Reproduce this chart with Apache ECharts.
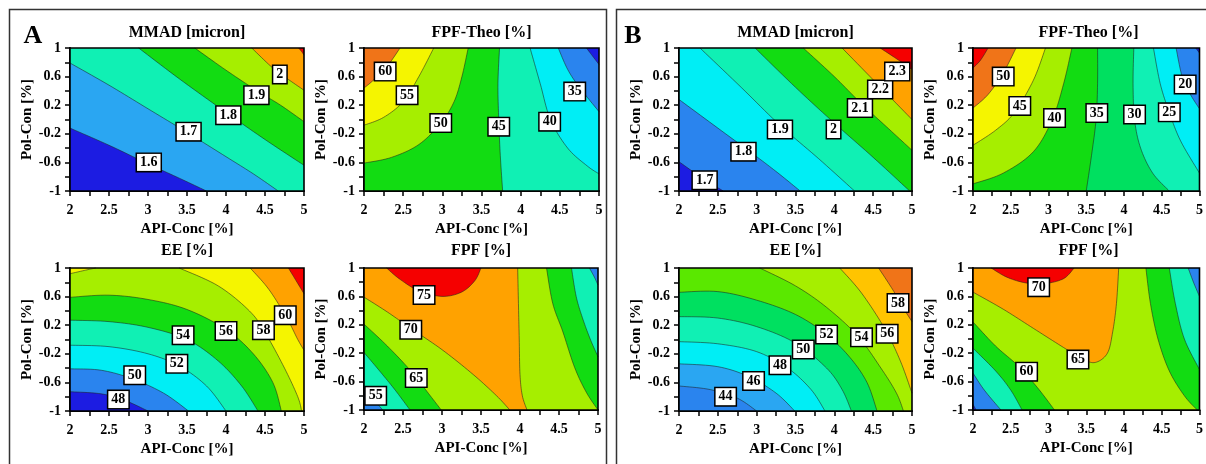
<!DOCTYPE html>
<html><head><meta charset="utf-8">
<script src="https://cdn.jsdelivr.net/npm/echarts@6/dist/echarts.min.js"></script>
<style>html,body{margin:0;padding:0;background:#fff}#c{width:1206px;height:464px}</style>
</head><body><div id="c"></div>
<script>
// ================= DATA =================
const xTicks = [2, 2.5, 3, 3.5, 4, 4.5, 5];
const xTickMarks = [2, 2.25, 2.5, 2.75, 3, 3.25, 3.5, 3.75, 4, 4.25, 4.5, 4.75, 5];
const yTicks = [-1, -0.6, -0.2, 0.2, 0.6, 1];
const yTickMarks = [-1, -0.8, -0.6, -0.4, -0.2, 0, 0.2, 0.4, 0.6, 0.8, 1];
const xName = 'API-Conc [%]';
const yName = 'Pol-Con [%]';
const panelLetters = ['A', 'B'];
const plotTitles = ['MMAD [micron]', 'FPF-Theo [%]', 'EE [%]', 'FPF [%]',
                    'MMAD [micron]', 'FPF-Theo [%]', 'EE [%]', 'FPF [%]'];

// Contour lines: level, which side is filled (hi = values above level), points on the line
// [API-Conc, Pol-Con], and plot corners that close the region.
// ---- Panel A : MMAD ----
const aMmadLevels = [1.6, 1.7, 1.8, 1.9, 2.0, 2.1];
const aMmadBase = 1.55;
const aMmadLines = [
  {lv: 1.6, side: 'hi', pts: [[2,-0.12],[2.5,-0.36],[3.0,-0.62],[3.4,-0.82],[3.75,-1]], close: [[5,-1],[5,1],[2,1]]},
  {lv: 1.7, side: 'hi', pts: [[2,0.79],[2.5,0.48],[3.0,0.15],[3.5,-0.18],[4.0,-0.52],[4.35,-0.76],[4.67,-1]], close: [[5,-1],[5,1],[2,1]]},
  {lv: 1.8, side: 'hi', pts: [[2.88,1],[3.4,0.57],[4.0,0.1],[4.5,-0.28],[5,-0.64]], close: [[5,1]]},
  {lv: 1.9, side: 'hi', pts: [[3.6,1],[4.0,0.69],[4.4,0.4],[4.7,0.2],[5,-0.03]], close: [[5,1]]},
  {lv: 2.0, side: 'hi', pts: [[4.33,1],[4.6,0.72],[4.8,0.56],[5,0.41]], close: [[5,1]]},
  {lv: 2.1, side: 'hi', pts: [[4.93,1],[4.97,0.95],[5,0.9]], close: [[5,1]]}
];
const aMmadLabels = [[3.01,-0.6,'1.6'],[3.52,-0.17,'1.7'],[4.03,0.06,'1.8'],[4.39,0.34,'1.9'],[4.69,0.63,'2']];

// ---- Panel A : FPF-Theo ----
const aTheoLevels = [30, 35, 40, 45, 50, 55, 60];
const aTheoBase = 47;
const aTheoLines = [
  {lv: 50, side: 'hi', pts: [[3.33,1],[3.25,0.6],[3.15,0.25],[2.98,-0.05],[2.7,-0.35],[2.35,-0.53],[2,-0.61]], close: [[2,1]]},
  {lv: 55, side: 'hi', pts: [[2.89,1],[2.7,0.6],[2.5,0.25],[2.25,0.03],[2,-0.08]], close: [[2,1]]},
  {lv: 60, side: 'hi', pts: [[2.46,1],[2.3,0.75],[2.12,0.55],[2,0.44]], close: [[2,1]]},
  {lv: 45, side: 'lo', pts: [[3.73,1],[3.71,0.5],[3.72,0],[3.74,-0.5],[3.77,-1]], close: [[5,-1],[5,1]]},
  {lv: 40, side: 'lo', pts: [[4.12,1],[4.25,0.5],[4.38,0],[4.6,-0.4],[4.85,-0.65],[5,-0.76]], close: [[5,1]]},
  {lv: 35, side: 'lo', pts: [[4.48,1],[4.6,0.7],[4.75,0.45],[5,0.11]], close: [[5,1]]},
  {lv: 30, side: 'lo', pts: [[4.84,1],[4.93,0.87],[5,0.77]], close: [[5,1]]}
];
const aTheoLabels = [[2.27,0.67,'60'],[2.55,0.34,'55'],[2.98,-0.05,'50'],[3.72,-0.1,'45'],[4.37,-0.03,'40'],[4.69,0.39,'35']];

// ---- Panel A : EE ----
const aEeLevels = [48, 50, 52, 54, 56, 58, 60, 62];
const aEeBase = 47;
const aEeLines = [
  {lv: 48, side: 'hi', pts: [[2,-0.73],[2.4,-0.76],[2.7,-0.85],[3.0,-1]], close: [[5,-1],[5,1],[2,1]]},
  {lv: 50, side: 'hi', pts: [[2,-0.41],[2.4,-0.43],[2.8,-0.55],[3.2,-0.75],[3.52,-1]], close: [[5,-1],[5,1],[2,1]]},
  {lv: 52, side: 'hi', pts: [[2,-0.08],[2.5,-0.1],[3.0,-0.2],[3.4,-0.37],[3.75,-0.65],[4.0,-1]], close: [[5,-1],[5,1],[2,1]]},
  {lv: 54, side: 'hi', pts: [[2,0.27],[2.5,0.25],[3.0,0.17],[3.5,0.0],[3.9,-0.3],[4.2,-0.65],[4.41,-1]], close: [[5,-1],[5,1],[2,1]]},
  {lv: 56, side: 'hi', pts: [[2,0.59],[2.5,0.62],[3.0,0.56],[3.5,0.42],[4.0,0.14],[4.35,-0.2],[4.6,-0.6],[4.71,-1]], close: [[5,-1],[5,1],[2,1]]},
  {lv: 58, side: 'hi', pts: [[2,0.92],[2.2,0.97],[2.33,1]], close: [[2,1]]},
  {lv: 58, side: 'hi', pts: [[3.4,1],[3.9,0.75],[4.3,0.4],[4.5,0.1],[4.75,-0.4],[4.92,-0.8],[4.97,-1]], close: [[5,-1],[5,1]]},
  {lv: 60, side: 'hi', pts: [[4.31,1],[4.55,0.7],[4.78,0.3],[4.92,0.0],[5,-0.15]], close: [[5,1]]},
  {lv: 62, side: 'hi', pts: [[4.8,1],[4.9,0.82],[5,0.64]], close: [[5,1]]}
];
const aEeLabels = [[2.62,-0.84,'48'],[2.83,-0.5,'50'],[3.37,-0.34,'52'],[3.45,0.06,'54'],[4.0,0.12,'56'],[4.48,0.13,'58'],[4.76,0.34,'60']];

// ---- Panel A : FPF ----
const aFpfLevels = [55, 60, 65, 70, 75];
const aFpfBase = 72;
const aFpfLines = [
  {lv: 75, side: 'hi', pts: [[2.29,1],[2.45,0.85],[2.7,0.68],[3.0,0.6],[3.25,0.66],[3.42,0.82],[3.5,1]], close: []},
  {lv: 70, side: 'lo', pts: [[2,0.59],[2.3,0.38],[2.6,0.15],[3.0,-0.15],[3.4,-0.5],[3.7,-0.8],[3.87,-1]], close: [[2,-1]]},
  {lv: 65, side: 'lo', pts: [[2,0.21],[2.3,-0.1],[2.6,-0.45],[2.85,-0.8],[2.99,-1]], close: [[2,-1]]},
  {lv: 60, side: 'lo', pts: [[2,-0.19],[2.2,-0.45],[2.4,-0.72],[2.59,-1]], close: [[2,-1]]},
  {lv: 55, side: 'lo', pts: [[2,-0.71],[2.12,-0.85],[2.24,-1]], close: [[2,-1]]},
  {lv: 70, side: 'lo', pts: [[3.97,1],[3.98,0.5],[3.99,0],[4.0,-0.5],[4.03,-0.8],[4.09,-1]], close: [[5,-1],[5,1]]},
  {lv: 65, side: 'lo', pts: [[4.34,1],[4.42,0.5],[4.55,0.1],[4.7,-0.4],[4.85,-0.75],[5,-1]], close: [[5,1]]},
  {lv: 60, side: 'lo', pts: [[4.66,1],[4.72,0.6],[4.8,0.3],[4.9,0],[5,-0.25]], close: [[5,1]]},
  {lv: 55, side: 'lo', pts: [[4.89,1],[4.95,0.88],[5,0.76]], close: [[5,1]]}
];
const aFpfLabels = [[2.77,0.62,'75'],[2.6,0.13,'70'],[2.67,-0.55,'65'],[2.15,-0.8,'55']];

// ---- Panel B : MMAD ----
const bMmadLevels = [1.7, 1.8, 1.9, 2.0, 2.1, 2.2, 2.3];
const bMmadBase = 1.65;
const bMmadLines = [
  {lv: 1.7, side: 'hi', pts: [[2,-0.59],[2.3,-0.82],[2.57,-1]], close: [[5,-1],[5,1],[2,1]]},
  {lv: 1.8, side: 'hi', pts: [[2,0.28],[2.5,-0.12],[3.0,-0.52],[3.3,-0.77],[3.56,-1]], close: [[5,-1],[5,1],[2,1]]},
  {lv: 1.9, side: 'hi', pts: [[2.27,1],[2.8,0.45],[3.3,-0.08],[3.8,-0.55],[4.26,-1]], close: [[5,-1],[5,1]]},
  {lv: 2.0, side: 'hi', pts: [[2.98,1],[3.5,0.45],[4.0,-0.05],[4.5,-0.53],[4.97,-1]], close: [[5,-1],[5,1]]},
  {lv: 2.1, side: 'hi', pts: [[3.6,1],[4.0,0.6],[4.35,0.22],[4.7,-0.13],[5,-0.43]], close: [[5,1]]},
  {lv: 2.2, side: 'hi', pts: [[4.1,1],[4.55,0.5],[5,0.0]], close: [[5,1]]},
  {lv: 2.3, side: 'hi', pts: [[4.59,1],[4.8,0.85],[5,0.7]], close: [[5,1]]}
];
const bMmadLabels = [[2.33,-0.85,'1.7'],[2.83,-0.45,'1.8'],[3.3,-0.14,'1.9'],[3.99,-0.14,'2'],[4.33,0.16,'2.1'],[4.59,0.42,'2.2'],[4.81,0.67,'2.3']];

// ---- Panel B : FPF-Theo ----
const bTheoLevels = [15, 20, 25, 30, 35, 40, 45, 50, 55];
const bTheoBase = 37;
const bTheoLines = [
  {lv: 40, side: 'hi', pts: [[3.31,1],[3.2,0.5],[3.05,0.0],[2.8,-0.45],[2.4,-0.75],[2,-0.9]], close: [[2,1]]},
  {lv: 45, side: 'hi', pts: [[2.96,1],[2.8,0.55],[2.55,0.1],[2.3,-0.15],[2,-0.36]], close: [[2,1]]},
  {lv: 50, side: 'hi', pts: [[2.57,1],[2.4,0.65],[2.2,0.35],[2,0.16]], close: [[2,1]]},
  {lv: 55, side: 'hi', pts: [[2.2,1],[2.1,0.83],[2,0.72]], close: [[2,1]]},
  {lv: 35, side: 'lo', pts: [[3.65,1],[3.65,0.5],[3.63,0],[3.57,-0.5],[3.5,-1]], close: [[5,-1],[5,1]]},
  {lv: 30, side: 'lo', pts: [[4.13,1],[4.12,0.5],[4.14,0.0],[4.22,-0.4],[4.38,-0.75],[4.6,-1]], close: [[5,-1],[5,1]]},
  {lv: 25, side: 'lo', pts: [[4.39,1],[4.48,0.5],[4.6,0.1],[4.75,-0.3],[5,-0.75]], close: [[5,1]]},
  {lv: 20, side: 'lo', pts: [[4.69,1],[4.77,0.6],[4.88,0.35],[5,0.15]], close: [[5,1]]},
  {lv: 15, side: 'lo', pts: [[4.95,1],[5,0.93]], close: [[5,1]]}
];
const bTheoLabels = [[2.4,0.6,'50'],[2.62,0.19,'45'],[3.08,0.02,'40'],[3.64,0.09,'35'],[4.14,0.07,'30'],[4.6,0.1,'25'],[4.81,0.49,'20']];

// ---- Panel B : EE ----
const bEeLevels = [44, 46, 48, 50, 52, 54, 56, 58];
const bEeBase = 43;
const bEeLines = [
  {lv: 44, side: 'hi', pts: [[2,-0.65],[2.4,-0.7],[2.75,-0.82],[3.0,-1]], close: [[5,-1],[5,1],[2,1]]},
  {lv: 46, side: 'hi', pts: [[2,-0.34],[2.5,-0.38],[2.9,-0.52],[3.25,-0.75],[3.49,-1]], close: [[5,-1],[5,1],[2,1]]},
  {lv: 48, side: 'hi', pts: [[2,-0.03],[2.5,-0.06],[3.0,-0.17],[3.4,-0.4],[3.7,-0.7],[3.88,-1]], close: [[5,-1],[5,1],[2,1]]},
  {lv: 50, side: 'hi', pts: [[2,0.32],[2.5,0.3],[3.0,0.18],[3.5,-0.05],[3.9,-0.4],[4.1,-0.7],[4.22,-1]], close: [[5,-1],[5,1],[2,1]]},
  {lv: 52, side: 'hi', pts: [[2,0.66],[2.5,0.67],[3.0,0.55],[3.5,0.35],[3.9,0.07],[4.2,-0.25],[4.42,-0.6],[4.55,-1]], close: [[5,-1],[5,1],[2,1]]},
  {lv: 54, side: 'hi', pts: [[3.04,1],[3.5,0.75],[3.9,0.45],[4.3,0.05],[4.6,-0.4],[4.8,-0.75],[4.89,-1]], close: [[5,-1],[5,1]]},
  {lv: 56, side: 'hi', pts: [[4.07,1],[4.35,0.65],[4.65,0.15],[4.85,-0.3],[5,-0.75]], close: [[5,1]]},
  {lv: 58, side: 'hi', pts: [[4.57,1],[4.75,0.7],[4.9,0.42],[5,0.25]], close: [[5,1]]}
];
const bEeLabels = [[2.6,-0.8,'44'],[2.96,-0.58,'46'],[3.3,-0.36,'48'],[3.6,-0.14,'50'],[3.9,0.07,'52'],[4.35,0.03,'54'],[4.68,0.08,'56'],[4.82,0.51,'58']];

// ---- Panel B : FPF ----
const bFpfLevels = [45, 50, 55, 60, 65, 70];
const bFpfBase = 62;
const bFpfLines = [
  {lv: 65, side: 'hi', pts: [[2,0.66],[2.4,0.42],[2.8,0.15],[3.2,-0.12],[3.45,-0.28],[3.62,-0.33],[3.78,-0.2],[3.85,0.1],[3.9,0.5],[3.93,1]], close: [[2,1]]},
  {lv: 70, side: 'hi', pts: [[2.24,1],[2.45,0.87],[2.7,0.79],[2.95,0.78],[3.2,0.85],[3.34,1]], close: []},
  {lv: 60, side: 'lo', pts: [[2,0.24],[2.3,-0.1],[2.6,-0.38],[2.85,-0.68],[3.08,-1]], close: [[2,-1]]},
  {lv: 55, side: 'lo', pts: [[2,-0.13],[2.3,-0.45],[2.5,-0.72],[2.65,-1]], close: [[2,-1]]},
  {lv: 50, side: 'lo', pts: [[2,-0.48],[2.15,-0.72],[2.37,-1]], close: [[2,-1]]},
  {lv: 45, side: 'lo', pts: [[2,-0.92],[2.04,-1]], close: [[2,-1]]},
  {lv: 60, side: 'lo', pts: [[4.29,1],[4.35,0.5],[4.45,0],[4.6,-0.45],[4.8,-0.8],[4.97,-1]], close: [[5,-1],[5,1]]},
  {lv: 55, side: 'lo', pts: [[4.6,1],[4.68,0.5],[4.8,0],[5,-0.43]], close: [[5,1]]},
  {lv: 50, side: 'lo', pts: [[4.85,1],[4.92,0.8],[5,0.6]], close: [[5,1]]}
];
const bFpfLabels = [[2.87,0.73,'70'],[3.39,-0.29,'65'],[2.71,-0.46,'60']];

// ================= STYLE / LAYOUT =================
const FONT = '"Liberation Serif", "Times New Roman", serif';
const PAL = {
  darkblue: '#1c1ce2', blue: '#2a84ee', lightblue: '#2aa6f2', cyan: '#00eef5',
  aqua: '#10f0b4', green2: '#00e060', green: '#12dc12', lightgreen: '#5ae800',
  yellowgreen: '#a6ee00', yellow: '#f5f500', gold: '#ffc400', orange: '#ffa200',
  darkorange: '#f07418', red: '#f50000'
};
const plots = [
  {levels: aMmadLevels, base: aMmadBase, lines: aMmadLines, labels: aMmadLabels,
   bands: ['darkblue','lightblue','aqua','green','yellowgreen','orange','red'],
   grid: {left: 70, top: 48, width: 234, height: 143}},
  {levels: aTheoLevels, base: aTheoBase, lines: aTheoLines, labels: aTheoLabels,
   bands: ['darkblue','blue','cyan','aqua','green','yellowgreen','yellow','darkorange'],
   grid: {left: 364, top: 48, width: 235, height: 143}},
  {levels: aEeLevels, base: aEeBase, lines: aEeLines, labels: aEeLabels,
   bands: ['darkblue','blue','cyan','aqua','green','yellowgreen','yellow','orange','red'],
   grid: {left: 70, top: 268, width: 234, height: 143}},
  {levels: aFpfLevels, base: aFpfBase, lines: aFpfLines, labels: aFpfLabels,
   bands: ['blue','aqua','green','yellowgreen','orange','red'],
   grid: {left: 364, top: 268, width: 234, height: 142}},
  {levels: bMmadLevels, base: bMmadBase, lines: bMmadLines, labels: bMmadLabels,
   bands: ['darkblue','blue','cyan','aqua','green','yellowgreen','orange','red'],
   grid: {left: 679, top: 48, width: 233, height: 143}},
  {levels: bTheoLevels, base: bTheoBase, lines: bTheoLines, labels: bTheoLabels,
   bands: ['darkblue','blue','cyan','aqua','green2','green','yellowgreen','yellow','darkorange','red'],
   grid: {left: 973, top: 48, width: 231, height: 143}},
  {levels: bEeLevels, base: bEeBase, lines: bEeLines, labels: bEeLabels,
   bands: ['blue','lightblue','cyan','aqua','green2','lightgreen','yellowgreen','gold','darkorange'],
   grid: {left: 679, top: 268, width: 233, height: 143}},
  {levels: bFpfLevels, base: bFpfBase, lines: bFpfLines, labels: bFpfLabels,
   bands: ['darkblue','blue','aqua','green','yellowgreen','orange','red'],
   grid: {left: 973, top: 268, width: 231, height: 142}}
];

function bandIndexOf(levels, v) { let k = 0; while (k < levels.length && levels[k] < v) k++; return k; }
function smoothPts(P, seg) {
  if (P.length < 3) return P.slice();
  const out = [];
  for (let i = 0; i < P.length - 1; i++) {
    const p0 = P[i - 1] || P[i], p1 = P[i], p2 = P[i + 1], p3 = P[i + 2] || P[i + 1];
    for (let s = 0; s < seg; s++) {
      const t = s / seg, t2 = t * t, t3 = t2 * t;
      const f = d => 0.5 * (2 * p1[d] + (-p0[d] + p2[d]) * t + (2 * p0[d] - 5 * p1[d] + 4 * p2[d] - p3[d]) * t2 + (-p0[d] + 3 * p1[d] - 3 * p2[d] + p3[d]) * t3);
      out.push([f(0), f(1)]);
    }
  }
  out.push(P[P.length - 1]);
  return out;
}
function makeRender(plot) {
  const n = plot.lines.length;
  return function (params, api) {
    const cs = params.coordSys;
    const i = params.dataIndex;
    const clampP = p => [Math.min(Math.max(p[0], cs.x), cs.x + cs.width), Math.min(Math.max(p[1], cs.y), cs.y + cs.height)];
    if (i === 0) {
      const col = PAL[plot.bands[bandIndexOf(plot.levels, plot.base)]];
      return {type: 'rect', shape: {x: cs.x, y: cs.y, width: cs.width, height: cs.height}, style: {fill: col}};
    }
    if (i === n + 1) {
      return {type: 'rect', shape: {x: cs.x, y: cs.y, width: cs.width, height: cs.height},
              style: {fill: null, stroke: '#000', lineWidth: 1.6}};
    }
    const c = plot.lines[i - 1];
    const k = plot.levels.indexOf(c.lv);
    const col = PAL[plot.bands[c.side === 'hi' ? k + 1 : k]];
    const linePx = smoothPts(c.pts.map(p => api.coord(p)), 10).map(clampP);
    const closePx = c.close.map(p => api.coord(p));
    return {type: 'group', children: [
      {type: 'polygon', shape: {points: linePx.concat(closePx)}, style: {fill: col}},
      {type: 'polyline', shape: {points: linePx}, style: {fill: null, stroke: 'rgba(30,30,30,0.6)', lineWidth: 0.9}}
    ]};
  };
}

const grids = [], xAxes = [], yAxes = [], series = [], graphics = [];
const txt = {fontFamily: FONT, fontWeight: 'bold', color: '#000'};
plots.forEach((p, gi) => {
  grids.push(Object.assign({show: false}, p.grid));
  xAxes.push({
    gridIndex: gi, type: 'value', min: 2, max: 5, interval: 0.5,
    name: xName, nameLocation: 'middle', nameGap: 31,
    nameTextStyle: Object.assign({fontSize: 15}, txt),
    axisLine: {show: true, onZero: false, lineStyle: {color: '#000', width: 2}},
    axisTick: {show: true, inside: false, length: 5, lineStyle: {color: '#000', width: 1.5}, customValues: xTickMarks},
    axisLabel: Object.assign({fontSize: 14, margin: 12, customValues: xTicks, formatter: v => String(v)}, txt),
    splitLine: {show: false}
  });
  yAxes.push({
    gridIndex: gi, type: 'value', min: -1, max: 1,
    name: yName, nameLocation: 'middle', nameGap: 35, nameRotate: 90,
    nameTextStyle: Object.assign({fontSize: 15}, txt),
    axisLine: {show: true, onZero: false, lineStyle: {color: '#000', width: 2}},
    axisTick: {show: true, inside: false, length: 5, lineStyle: {color: '#000', width: 1.5}, customValues: yTickMarks},
    axisLabel: Object.assign({fontSize: 14, margin: 9, customValues: yTicks, formatter: v => String(v)}, txt),
    splitLine: {show: false}
  });
  series.push({
    type: 'custom', xAxisIndex: gi, yAxisIndex: gi, silent: true, animation: false,
    renderItem: makeRender(p),
    data: Array.from({length: p.lines.length + 2}, () => [2, -1])
  });
  series.push({
    type: 'scatter', xAxisIndex: gi, yAxisIndex: gi, silent: true, animation: false, z: 10,
    symbolSize: 0, itemStyle: {opacity: 1, color: '#fff'},
    data: p.labels.map(l => [l[0], l[1], l[2]]),
    label: {show: true, position: 'inside', formatter: q => q.data[2], opacity: 1,
            fontFamily: FONT, fontWeight: 'bold', fontSize: 14, color: '#000',
            backgroundColor: '#ffffff', borderColor: '#000', borderWidth: 1.5, padding: [2, 3, 1, 3]}
  });
  graphics.push({type: 'text', x: p.grid.left + p.grid.width / 2, y: gi % 4 < 2 ? 33 : 251,
    style: {text: plotTitles[gi], font: 'bold 16px ' + FONT, fill: '#000', textAlign: 'center', textVerticalAlign: 'middle'}});
});
graphics.push({type: 'rect', shape: {x: 9.5, y: 9.5, width: 597, height: 480}, style: {fill: null, stroke: '#333', lineWidth: 1.5}});
graphics.push({type: 'rect', shape: {x: 616.5, y: 9.5, width: 620, height: 480}, style: {fill: null, stroke: '#333', lineWidth: 1.5}});
graphics.push({type: 'text', x: 33, y: 36, style: {text: panelLetters[0], font: 'bold 26px ' + FONT, fill: '#000', textAlign: 'center', textVerticalAlign: 'middle'}});
graphics.push({type: 'text', x: 633, y: 36, style: {text: panelLetters[1], font: 'bold 26px ' + FONT, fill: '#000', textAlign: 'center', textVerticalAlign: 'middle'}});

const chart = echarts.init(document.getElementById('c'), null, {renderer: 'canvas'});
chart.setOption({
  animation: false,
  backgroundColor: '#fff',
  grid: grids, xAxis: xAxes, yAxis: yAxes, series: series,
  graphic: {elements: graphics}
});
</script></body></html>
